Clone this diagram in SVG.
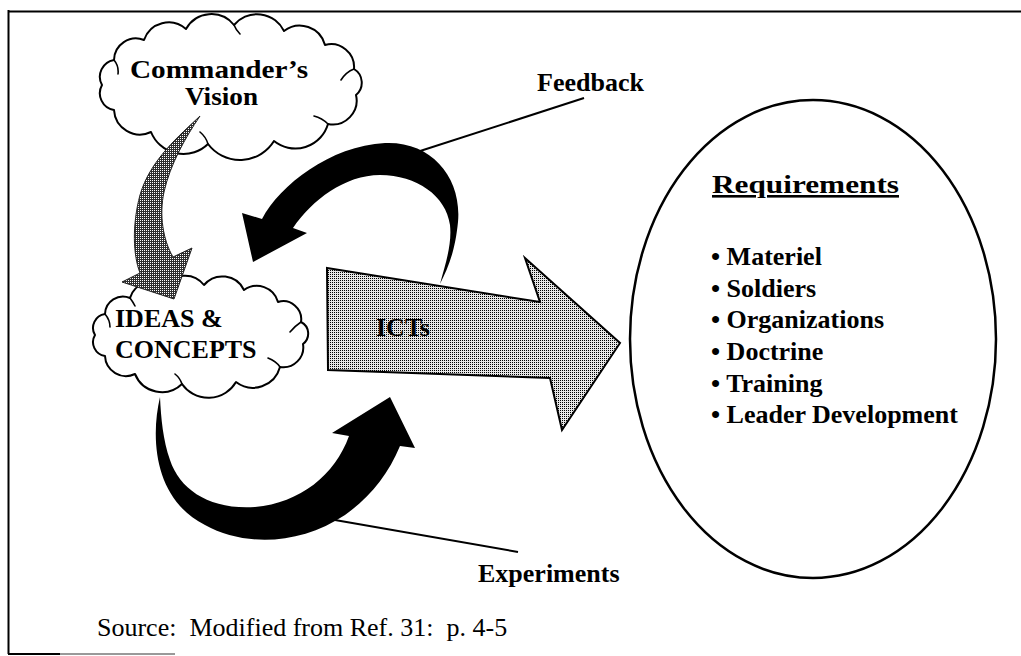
<svg xmlns="http://www.w3.org/2000/svg" width="1021" height="656" viewBox="0 0 1021 656">
  <style>
    .lbl { font-family: "Liberation Serif", "Times New Roman", serif; font-weight: bold; font-size: 26px; fill: #000; }
    .src { font-family: "Liberation Serif", "Times New Roman", serif; font-size: 26px; fill: #000; white-space: pre; }
    .cloud { fill: #fff; stroke: #000; stroke-width: 2; stroke-linejoin: round; }
    .curl { fill: none; stroke: #000; stroke-width: 1.6; stroke-linecap: round; }
    .lead { stroke: #000; stroke-width: 2; fill: none; }
    .frame { stroke: #000; stroke-width: 2; fill: none; }
  </style>
  <defs>
    <pattern id="lightDots" width="2" height="2" patternUnits="userSpaceOnUse">
      <rect width="2" height="2" fill="#e6e6e6"/>
      <rect width="1" height="1" fill="#000"/>
    </pattern>
    <pattern id="darkDots" width="2" height="2" patternUnits="userSpaceOnUse">
      <rect width="2" height="2" fill="#2e2e2e"/>
      <rect width="1" height="1" fill="#fff"/>
    </pattern>
  </defs>
  <rect width="1021" height="656" fill="#fff"/>

  <g id="frame">
    <line class="frame" x1="8.5" y1="10" x2="8.5" y2="654"/>
    <line class="frame" x1="8" y1="11.5" x2="1021" y2="11.5"/>
    <line class="frame" x1="8" y1="654" x2="60" y2="654"/>
    <line x1="60" y1="654" x2="175" y2="654" stroke="#999" stroke-width="2"/>
  </g>

  <g id="node-commanders-vision">
    <path class="cloud" d="M102,85 A17,17 0 0 1 114,60 A22,22 0 0 1 144,40 A26,26 0 0 1 186,29 A29,29 0 0 1 234,25 A30,30 0 0 1 284,31 A26,26 0 0 1 325,45 A23,23 0 0 1 354,69 A16,16 0 0 1 356,95 A24,24 0 0 1 328,124 A34,34 0 0 1 274,141 A40,40 0 0 1 208,144 A35,35 0 0 1 151,132 A26,26 0 0 1 114,110 A17,17 0 0 1 102,85 Z"/>
    <path class="curl" d="M114,60 Q119,66 118,74 M234,25 Q236,30 240,34 M354,69 Q346,72 341,80 M328,124 Q322,118 314,116 M208,144 Q206,137 200,132"/>
    <text class="lbl" x="130" y="78" font-size="28" textLength="178" lengthAdjust="spacingAndGlyphs">Commander’s</text>
    <text class="lbl" x="185" y="105" font-size="28" textLength="73" lengthAdjust="spacingAndGlyphs">Vision</text>
  </g>

  <g id="node-ideas-concepts">
    <path class="cloud" d="M95,335 A14,14 0 0 1 105,314 A18,18 0 0 1 130,298 A21,21 0 0 1 164,288 A24,24 0 0 1 204,285 A24,24 0 0 1 244,290 A22,22 0 0 1 278,302 A18,18 0 0 1 301,322 A13,13 0 0 1 303,344 A20,20 0 0 1 280,367 A28,28 0 0 1 236,382 A32,32 0 0 1 182,384 A29,29 0 0 1 135,374 A21,21 0 0 1 105,356 A14,14 0 0 1 95,335 Z"/>
    <path class="curl" d="M105,314 Q110,320 110,327 M130,298 Q133,302 135,306 M301,322 Q295,326 290,332 M280,367 Q276,361 268,358 M182,384 Q180,378 175,374"/>
    <text class="lbl" x="115" y="327">IDEAS &amp;</text>
    <text class="lbl" x="115" y="358">CONCEPTS</text>
  </g>

  <g id="node-icts">
    <polygon points="327,268 540,302 525,258 620,343 562,430 550,378 328,370" fill="url(#lightDots)" stroke="#000" stroke-width="2" stroke-linejoin="miter"/>
    <text class="lbl" x="376" y="336">ICTs</text>
  </g>

  <g id="node-requirements">
    <ellipse cx="813" cy="339" rx="183" ry="239" fill="#fff" stroke="#000" stroke-width="2.5"/>
    <text class="lbl" x="712" y="193" font-size="28" textLength="187" lengthAdjust="spacingAndGlyphs" text-decoration="underline">Requirements</text>
    <text class="lbl" x="711" y="265">• Materiel</text>
    <text class="lbl" x="711" y="297">• Soldiers</text>
    <text class="lbl" x="711" y="328">• Organizations</text>
    <text class="lbl" x="711" y="360">• Doctrine</text>
    <text class="lbl" x="711" y="392">• Training</text>
    <text class="lbl" x="711" y="423">• Leader Development</text>
  </g>

  <g id="connectors">
    <path id="vision-arrow" d="M200,116 C180,135 150,160 140,195 C132,225 133,255 140,273 L122,282 L174,299 L192,248 L173,257 C163,240 159,215 164,192 C170,165 185,138 200,116 Z" fill="url(#darkDots)" stroke="#222" stroke-width="1"/>
    <path id="feedback-arrow" d="M242,213 L262,219 C280,185 330,146 385,143 C432,141 462,178 458,222 C455,252 448,268 440,284 C446,262 452,244 450,225 C446,196 417,175 380,175 C345,175 312,200 293,228 L307,233 L253,262 Z" fill="#000"/>
    <path id="experiments-arrow" d="M160,397 C150,440 155,500 205,525 C245,547 300,545 345,515 C370,497 388,475 400,446 L415,448 L390,397 L332,433 L349,436 C335,475 300,503 255,507 C210,510 180,490 170,460 C163,440 161,418 160,397 Z" fill="#000"/>
    <line class="lead" x1="584" y1="98" x2="417" y2="152"/>
    <line class="lead" x1="335" y1="520" x2="518" y2="552"/>
  </g>

  <g id="labels">
    <text class="lbl" x="537" y="91">Feedback</text>
    <text class="lbl" x="478" y="582">Experiments</text>
    <text class="src" x="97" y="636" xml:space="preserve">Source:  Modified from Ref. 31:  p. 4-5</text>
  </g>
</svg>
